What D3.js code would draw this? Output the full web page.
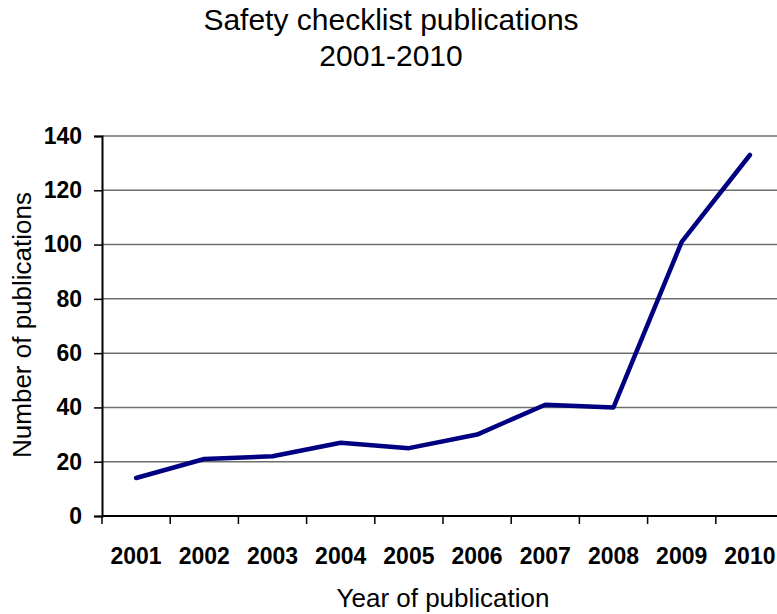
<!DOCTYPE html>
<html>
<head>
<meta charset="utf-8">
<script src="https://cdn.jsdelivr.net/npm/d3@7"></script>
<style>
  body { margin: 0; background: #fff; }
  svg { display: block; font-family: Arial, "Liberation Sans", sans-serif; }
</style>
</head>
<body>
<svg width="777" height="614"></svg>
<script>
// data
const years = ["2001", "2002", "2003", "2004", "2005", "2006", "2007", "2008", "2009", "2010"];
const counts = [14, 21, 22, 27, 25, 30, 41, 40, 101, 133];
const yTicks = [0, 20, 40, 60, 80, 100, 120, 140];

const svg = d3.select("svg");
const margin = { top: 136, left: 102, bottom: 516, right: 784 };

const x = d3.scaleBand()
  .domain(years)
  .range([margin.left, margin.right])
  .padding(0);

const y = d3.scaleLinear()
  .domain([0, 140])
  .range([margin.bottom, margin.top]);

//gridlines
svg.append("g")
  .selectAll("line")
  .data(yTicks.filter(d => d > 0))
  .join("line")
    .attr("x1", margin.left).attr("x2", margin.right)
    .attr("y1", d => y(d)).attr("y2", d => y(d))
    .attr("stroke", "#6e6e6e")
    .attr("stroke-width", 1.5);

//y axis
const yAxis = svg.append("g")
  .attr("transform", `translate(${margin.left},0)`)
  .call(d3.axisLeft(y).tickValues(yTicks).tickSize(8).tickPadding(12));
yAxis.select(".domain").attr("stroke", "#000").attr("stroke-width", 2);
yAxis.selectAll(".tick line").attr("stroke", "#000").attr("stroke-width", 1.5);
yAxis.selectAll(".tick text")
  .attr("font-family", "Arial, 'Liberation Sans', sans-serif")
  .attr("font-size", "23px")
  .attr("font-weight", "bold")
  .attr("fill", "#000");

//x axis, ticks on band edges
const xg = svg.append("g");
xg.append("line")
  .attr("x1", margin.left).attr("x2", margin.right)
  .attr("y1", y(0)).attr("y2", y(0))
  .attr("stroke", "#000").attr("stroke-width", 2);
xg.selectAll("line.tk")
  .data(years)
  .join("line")
    .attr("class", "tk")
    .attr("x1", d => x(d)).attr("x2", d => x(d))
    .attr("y1", y(0)).attr("y2", y(0) + 8)
    .attr("stroke", "#000").attr("stroke-width", 1.5);
xg.selectAll("text")
  .data(years)
  .join("text")
    .attr("x", d => x(d) + x.bandwidth() / 2)
    .attr("y", 564)
    .attr("text-anchor", "middle")
    .attr("font-size", "23px")
    .attr("font-weight", "bold")
    .text(d => d);

//line
const line = d3.line()
  .x((d, i) => x(years[i]) + x.bandwidth() / 2)
  .y(d => y(d));

svg.append("path")
  .datum(counts)
  .attr("d", line)
  .attr("fill", "none")
  .attr("stroke", "#000080")
  .attr("stroke-width", 4.5)
  .attr("stroke-linejoin", "round")
  .attr("stroke-linecap", "round");

// titles
svg.append("text")
  .attr("x", 391).attr("y", 30)
  .attr("text-anchor", "middle")
  .attr("font-size", "30px")
  .text("Safety checklist publications");
svg.append("text")
  .attr("x", 391).attr("y", 66)
  .attr("text-anchor", "middle")
  .attr("font-size", "30px")
  .text("2001-2010");

svg.append("text")
  .attr("x", 443).attr("y", 607)
  .attr("text-anchor", "middle")
  .attr("font-size", "26px")
  .text("Year of publication");

svg.append("text")
  .attr("transform", "translate(31,325) rotate(-90)")
  .attr("text-anchor", "middle")
  .attr("font-size", "26px")
  .text("Number of publications");
</script>
</body>
</html>
